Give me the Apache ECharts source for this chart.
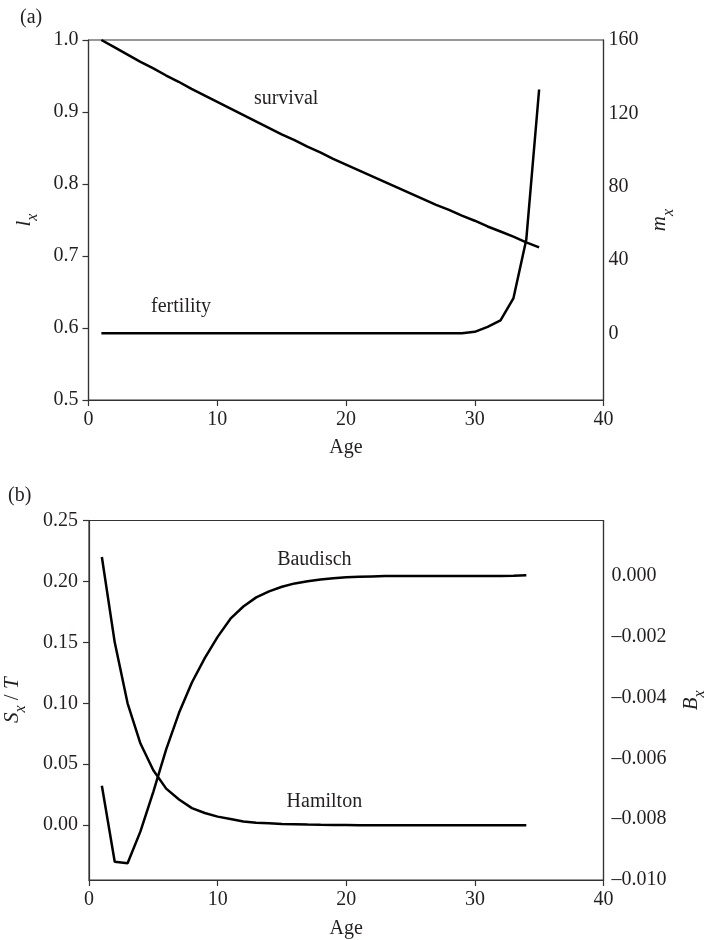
<!DOCTYPE html>
<html>
<head>
<meta charset="utf-8">
<script src="https://cdn.jsdelivr.net/npm/echarts@6/dist/echarts.min.js"></script>
<style>html,body{margin:0;padding:0;background:#fff;}#c{width:704px;height:940px;}</style>
</head>
<body>
<div id="c"></div>
<script>
// ---------- data ----------
var agesA = [1,2,3,4,5,6,7,8,9,10,11,12,13,14,15,16,17,18,19,20,21,22,23,24,25,26,27,28,29,30,31,32,33,34,35];
var survival = [1.000,0.990,0.980,0.970,0.961,0.951,0.942,0.932,0.923,0.914,0.905,0.896,0.887,0.878,0.869,0.861,0.852,0.844,0.835,0.827,0.819,0.811,0.803,0.795,0.787,0.779,0.771,0.764,0.756,0.749,0.741,0.734,0.727,0.719,0.712];
var fertility = [0,0,0,0,0,0,0,0,0,0,0,0,0,0,0,0,0,0,0,0,0,0,0,0,0,0,0,0,0,0.8,3.5,7,19,51,133];

var agesB = [1,2,3,4,5,6,7,8,9,10,11,12,13,14,15,16,17,18,19,20,21,22,23,24,25,26,27,28,29,30,31,32,33,34];
var hamilton = [0.220,0.150,0.100,0.067,0.045,0.030,0.021,0.014,0.010,0.007,0.005,0.003,0.002,0.0015,0.001,0.0008,0.0005,0.0003,0.0002,0.0001,0,0,0,0,0,0,0,0,0,0,0,0,0,0];
var baudisch = [-0.0069,-0.0094,-0.00945,-0.0084,-0.0071,-0.0057,-0.0045,-0.0035,-0.0027,-0.0020,-0.0014,-0.0010,-0.0007,-0.0005,-0.00035,-0.00024,-0.00017,-0.00011,-0.00007,-0.00004,-0.00002,-0.00001,0,0,0,0,0,0,0,0,0,0,0.00001,0.00003];

var xTicks = [0,10,20,30,40];
var lxTicks = [0.5,0.6,0.7,0.8,0.9,1.0];
var mxTicks = [0,40,80,120,160];
var sxTicks = [0,0.05,0.10,0.15,0.20,0.25];
var bxTicks = [-0.010,-0.008,-0.006,-0.004,-0.002,0];

var labelsA = [[15.35,0.919,'survival'],[7.19,0.629,'fertility']];
var labelsB = [[17.52,0.2177,'Baudisch'],[18.3,0.0191,'Hamilton']];

// ---------- chart ----------
var FONT = 'Liberation Serif';
var TXT = '#231f20';
var AX = '#333';
function zip(x, y){ return x.map(function(v,i){ return [v, y[i]]; }); }

var rich = {
  it:{fontFamily:FONT,fontStyle:'italic',fontSize:21,color:TXT,lineHeight:22,verticalAlign:'top'},
  sub:{fontFamily:FONT,fontStyle:'italic',fontSize:16,color:TXT,lineHeight:27,verticalAlign:'bottom'},
  n:{fontFamily:FONT,fontSize:21,color:TXT,lineHeight:22,verticalAlign:'top'}
};

function xAxisCfg(gi, gap){
  return {
    gridIndex: gi, type:'value', min:0, max:40, interval:10,
    axisLine:{show:true,onZero:false,lineStyle:{color:AX,width:1.2}},
    axisTick:{show:true,length:6,lineStyle:{color:AX,width:1.2}},
    axisLabel:{fontFamily:FONT,fontSize:20,color:TXT,margin:10,customValues:xTicks},
    splitLine:{show:false},
    name:'Age', nameLocation:'middle', nameGap:gap,
    nameTextStyle:{fontFamily:FONT,fontSize:20,color:TXT}
  };
}

var annLabel = {show:true,position:'inside',opacity:1,textBorderWidth:0,
  formatter:function(p){return p.data[2];},fontFamily:FONT,fontSize:20,color:TXT};

var option = {
  animation:false,
  backgroundColor:'#fff',
  title:[
    {text:'(a)', left:15, top:3, textStyle:{fontFamily:FONT,fontSize:20,fontWeight:'normal',color:TXT}},
    {text:'(b)', left:3, top:481, textStyle:{fontFamily:FONT,fontSize:20,fontWeight:'normal',color:TXT}}
  ],
  grid:[
    {left:88.5, right:100.5, top:40, height:360, show:true, borderColor:AX, borderWidth:1.2, containLabel:false, outerBoundsMode:'none'},
    {left:89, right:100.5, top:520.5, height:359.5, show:true, borderColor:AX, borderWidth:1.2, containLabel:false, outerBoundsMode:'none'}
  ],
  xAxis:[ xAxisCfg(0, 38), xAxisCfg(1, 39) ],
  yAxis:[
    {gridIndex:0, type:'value', min:0.5, max:1.0, interval:0.1, position:'left',
     axisLine:{show:true,onZero:false,lineStyle:{color:AX,width:1.2}},
     axisTick:{show:true,length:6,lineStyle:{color:AX,width:1.2}},
     axisLabel:{fontFamily:FONT,fontSize:20,color:TXT,margin:10,formatter:function(v){return v.toFixed(1);}},
     splitLine:{show:false},
     name:'{it|l}{sub|x}', nameLocation:'middle', nameRotate:90, nameGap:48,
     nameTextStyle:{rich:rich}},
    {gridIndex:0, type:'value', min:-36.4, max:160, position:'right',
     axisLine:{show:true,onZero:false,lineStyle:{color:AX,width:1.2}},
     axisTick:{show:false},
     axisLabel:{fontFamily:FONT,fontSize:20,color:TXT,margin:5,customValues:mxTicks},
     splitLine:{show:false},
     name:'{it|m}{sub|x}', nameLocation:'middle', nameRotate:90, nameGap:38,
     nameTextStyle:{rich:rich}},
    {gridIndex:1, type:'value', min:-0.045, max:0.25, position:'left',
     axisLine:{show:true,onZero:false,lineStyle:{color:AX,width:1.2}},
     axisTick:{show:true,length:6,customValues:sxTicks,lineStyle:{color:AX,width:1.2}},
     axisLabel:{fontFamily:FONT,fontSize:20,color:TXT,margin:11,customValues:sxTicks,formatter:function(v){return v.toFixed(2);}},
     splitLine:{show:false},
     name:'{it|S}{sub|x}{n| / }{it|T}', nameLocation:'middle', nameRotate:90, nameGap:60,
     nameTextStyle:{rich:rich}},
    {gridIndex:1, type:'value', min:-0.0100, max:0.00183, position:'right',
     axisLine:{show:true,onZero:false,lineStyle:{color:AX,width:1.2}},
     axisTick:{show:false},
     axisLabel:{fontFamily:FONT,fontSize:20,color:TXT,margin:8,customValues:bxTicks,
       formatter:function(v){ var a=Math.abs(v); if(a<1e-9) return '0.000'; return (v<0?'\u2013':'')+a.toFixed(3);}},
     splitLine:{show:false},
     name:'{it|B}{sub|x}', nameLocation:'middle', nameRotate:90, nameGap:77,
     nameTextStyle:{rich:rich}}
  ],
  series:[
    {name:'survival', type:'line', xAxisIndex:0, yAxisIndex:0, data:zip(agesA,survival), showSymbol:false, clip:false,
     lineStyle:{color:'#000',width:2.5}},
    {name:'fertility', type:'line', xAxisIndex:0, yAxisIndex:1, data:zip(agesA,fertility), showSymbol:false, clip:false,
     lineStyle:{color:'#000',width:2.5}},
    {name:'Hamilton', type:'line', xAxisIndex:1, yAxisIndex:2, data:zip(agesB,hamilton), showSymbol:false, clip:false,
     lineStyle:{color:'#000',width:2.5}},
    {name:'Baudisch', type:'line', xAxisIndex:1, yAxisIndex:3, data:zip(agesB,baudisch), showSymbol:false, clip:false,
     lineStyle:{color:'#000',width:2.5}},
    {name:'labelsA', type:'scatter', xAxisIndex:0, yAxisIndex:0, data:labelsA, symbolSize:0, silent:true,
     itemStyle:{opacity:1}, label:annLabel},
    {name:'labelsB', type:'scatter', xAxisIndex:1, yAxisIndex:2, data:labelsB, symbolSize:0, silent:true,
     itemStyle:{opacity:1}, label:annLabel}
  ]
};
var chart = echarts.init(document.getElementById('c'), null, {renderer:'canvas'});
chart.setOption(option);
</script>
</body>
</html>
